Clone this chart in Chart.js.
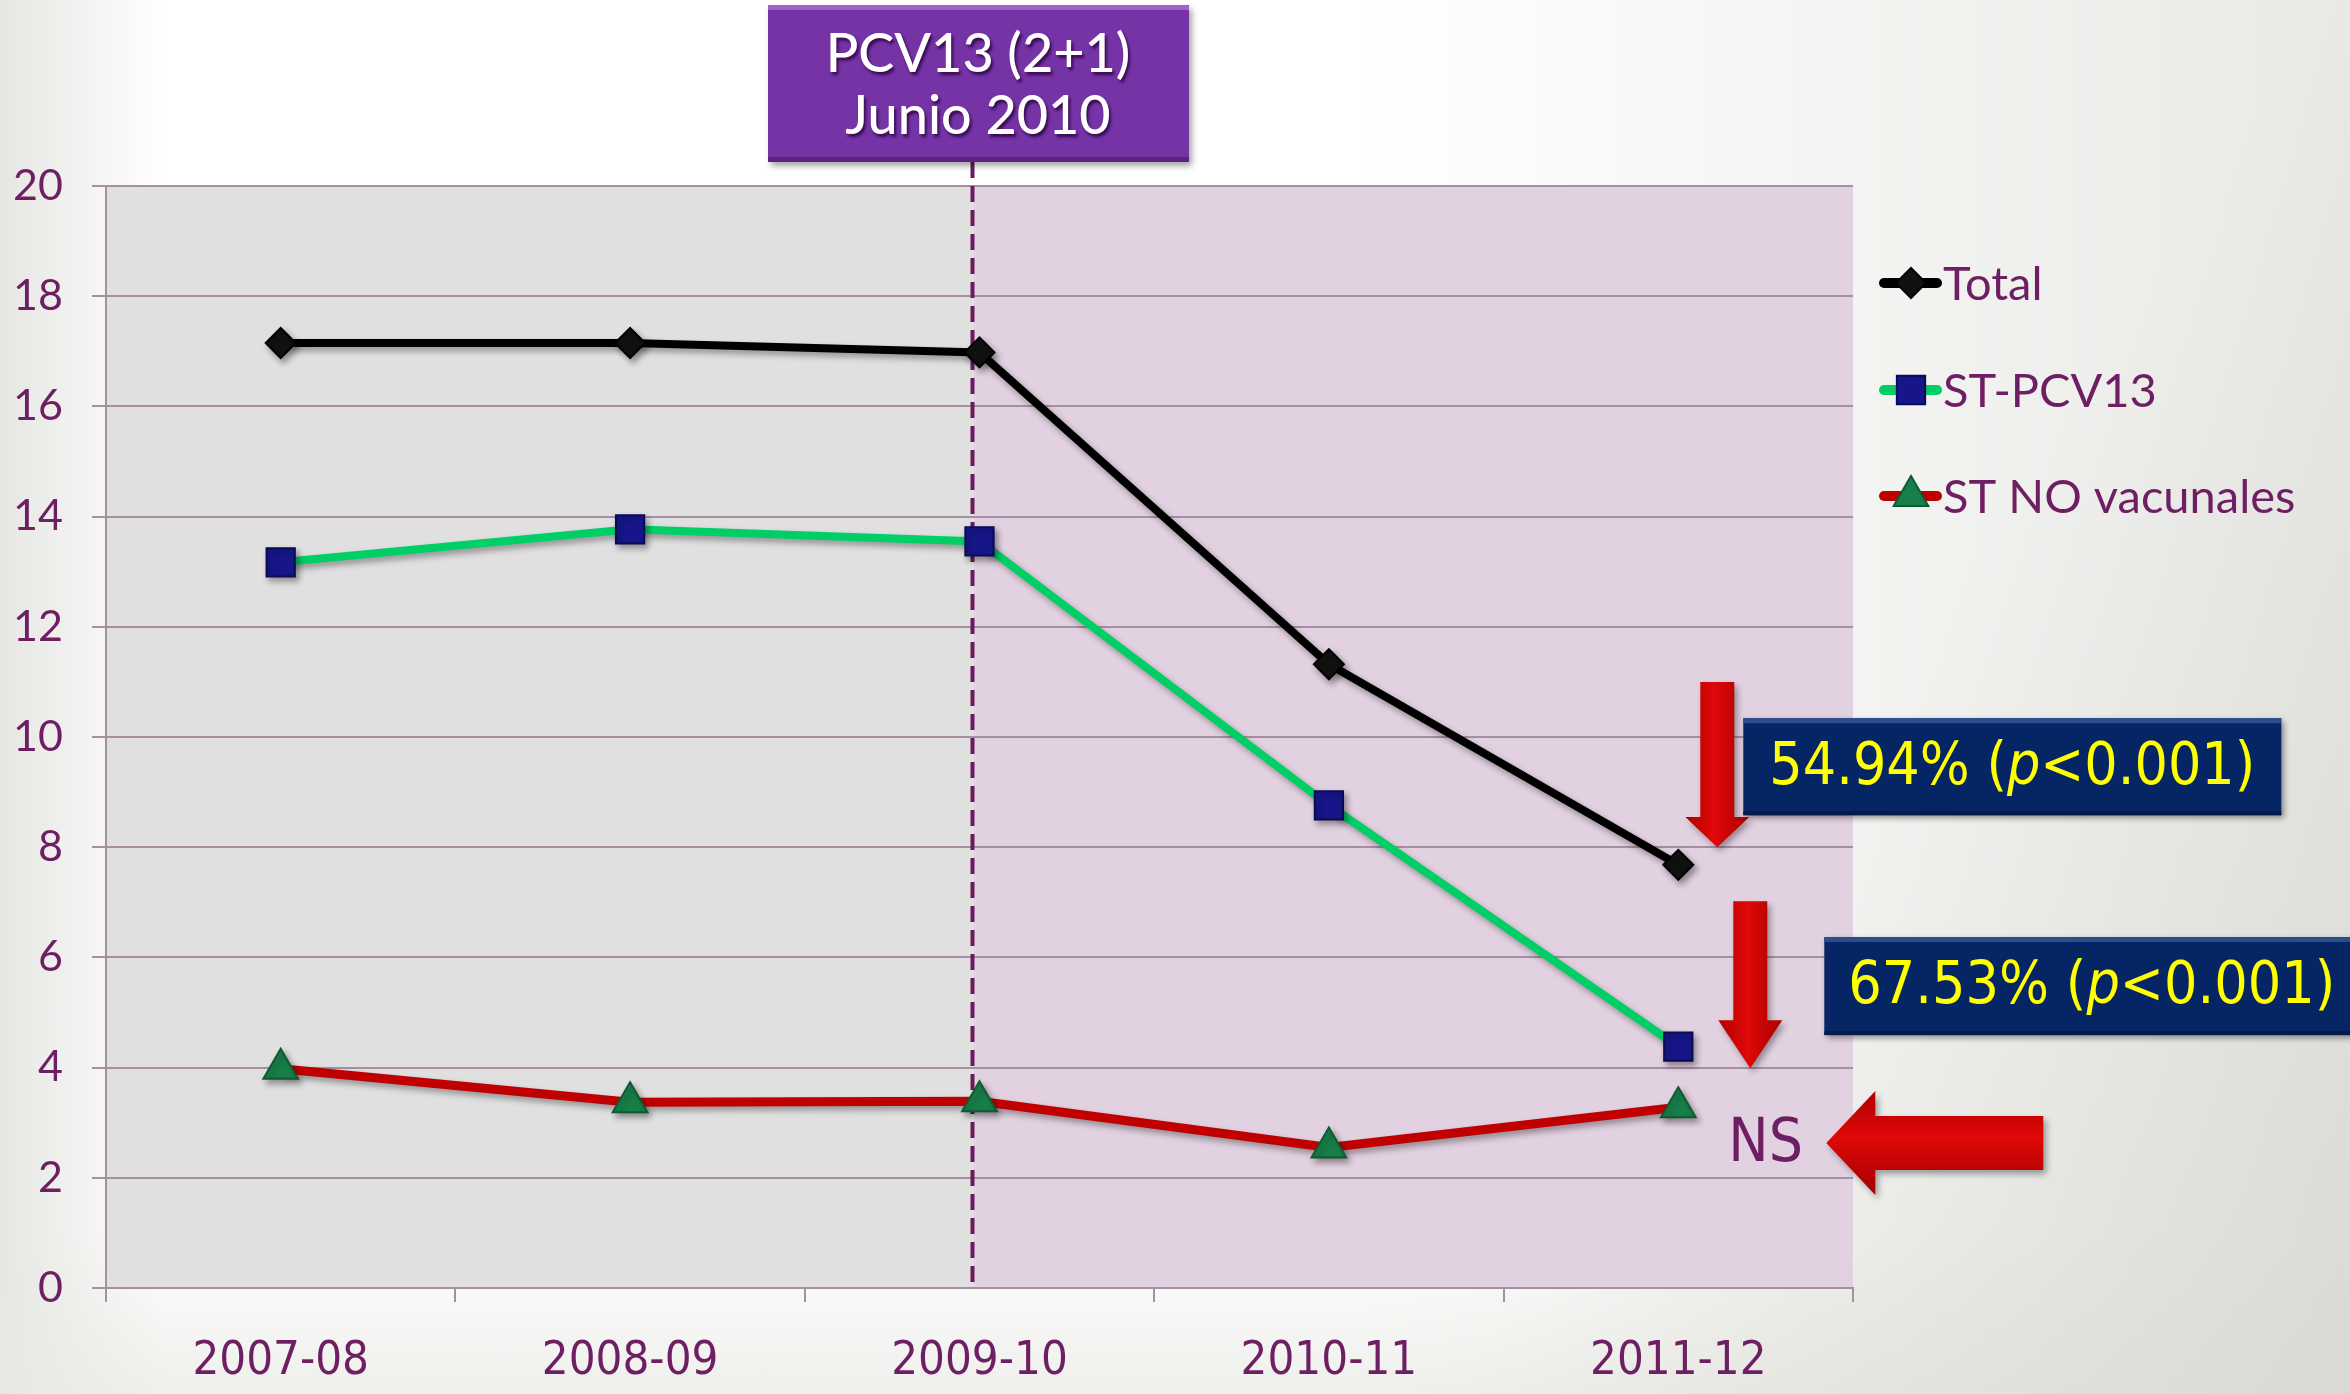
<!DOCTYPE html>
<html>
<head>
<meta charset="utf-8">
<script src="https://cdn.jsdelivr.net/npm/chart.js@4.4.1/dist/chart.umd.min.js"></script>
<style>
  html, body { margin: 0; padding: 0; }
  body {
    width: 2350px; height: 1394px; overflow: hidden;
    background:
      linear-gradient(122deg, rgba(255,255,255,0) 0%, rgba(255,255,255,0) 72%, rgba(205,205,200,0.55) 100%),
      linear-gradient(to bottom, rgba(255,255,255,0) 88%, rgba(232,232,228,0.7) 100%),
      linear-gradient(to right, #e6e6e3 0%, #ffffff 7%, #ffffff 58%, #f4f4f2 78%, #e9e9e6 100%);
  }
  #wrap { position: absolute; left: 0; top: 0; width: 2350px; height: 1394px; }
</style>
</head>
<body>
<div id="wrap"><canvas id="chart" width="2350" height="1394"></canvas></div>
<script>
// datos
let categories = ['2007-08', '2008-09', '2009-10', '2010-11', '2011-12'];
let totalValues = [17.15, 17.15, 16.98, 11.32, 7.68];
let pcv13Values = [13.17, 13.77, 13.55, 8.76, 4.38];
let noVacValues = [3.98, 3.37, 3.39, 2.55, 3.28];
let seriesNames = ['Total', 'ST-PCV13', 'ST NO vacunales'];
let yMin = 0, yMax = 20, yStep = 2;

let purple = '#6e1f63';
let gridColor = '#a68ea3';
let narrow = "'Liberation Sans Narrow', 'DejaVu Sans Condensed', sans-serif";

function arrowDown(ctx, cx, top, shaftW, headTop, headW, tip) {
    ctx.beginPath();
    ctx.moveTo(cx - shaftW / 2, top);
    ctx.lineTo(cx + shaftW / 2, top);
    ctx.lineTo(cx + shaftW / 2, headTop);
    ctx.lineTo(cx + headW / 2, headTop);
    ctx.lineTo(cx, tip);
    ctx.lineTo(cx - headW / 2, headTop);
    ctx.lineTo(cx - shaftW / 2, headTop);
    ctx.closePath();
    let g = ctx.createLinearGradient(cx - headW / 2, 0, cx + headW / 2, 0);
    g.addColorStop(0, '#b00000');
    g.addColorStop(0.45, '#e00808');
    g.addColorStop(1, '#a80000');
    ctx.fillStyle = g;
    ctx.fill();
}

function arrowLeft(ctx, tipX, cy, headBack, headH, shaftH, tail) {
    ctx.beginPath();
    ctx.moveTo(tipX, cy);
    ctx.lineTo(headBack, cy - headH / 2);
    ctx.lineTo(headBack, cy - shaftH / 2);
    ctx.lineTo(tail, cy - shaftH / 2);
    ctx.lineTo(tail, cy + shaftH / 2);
    ctx.lineTo(headBack, cy + shaftH / 2);
    ctx.lineTo(headBack, cy + headH / 2);
    ctx.closePath();
    let g = ctx.createLinearGradient(0, cy - headH / 2, 0, cy + headH / 2);
    g.addColorStop(0, '#b00000');
    g.addColorStop(0.45, '#e00808');
    g.addColorStop(1, '#a00000');
    ctx.fillStyle = g;
    ctx.fill();
}

function blueBox(ctx, x, y, w, h, parts, textW) {
    ctx.save();
    ctx.shadowColor = 'rgba(0,0,0,0.4)';
    ctx.shadowOffsetX = 3; ctx.shadowOffsetY = 3; ctx.shadowBlur = 6;
    ctx.fillStyle = '#062565';
    ctx.fillRect(x, y, w, h);
    ctx.restore();
    ctx.fillStyle = '#2c4d8e';
    ctx.fillRect(x, y, w, 5);
    ctx.fillStyle = '#041a4a';
    ctx.fillRect(x, y + h - 4, w, 4);

    // ajustar el tamaño de letra al ancho medido
    let size = 60;
    let measure = s => {
        let total = 0;
        parts.forEach(p => {
            ctx.font = (p.italic ? 'italic ' : '') + s + 'px ' + narrow;
            total += ctx.measureText(p.t).width;
        });
        return total;
    };
    size = size * textW / measure(size);
    let tx = x + (w - measure(size)) / 2;
    if (x + w > 2350) tx = x + 24;
    ctx.fillStyle = '#ffff00';
    ctx.textBaseline = 'middle';
    ctx.textAlign = 'left';
    parts.forEach(p => {
        ctx.font = (p.italic ? 'italic ' : '') + size + 'px ' + narrow;
        ctx.fillText(p.t, tx, y + h / 2 + 2);
        tx += ctx.measureText(p.t).width;
    });
}

const decorPlugin = {
    id: 'decor',
    beforeDraw(chart) {
        let ctx = chart.ctx;
        let a = chart.chartArea;
        let x = chart.scales.x;
        let split = x.getPixelForValue(2) - 6;
        ctx.save();
        ctx.fillStyle = '#e0e0e0';
        ctx.fillRect(a.left, a.top, split - a.left, a.bottom - a.top);
        ctx.fillStyle = '#e2d1e0';
        ctx.fillRect(split, a.top, a.right - split, a.bottom - a.top);
        ctx.restore();
    },
    beforeDatasetsDraw(chart) {
        let ctx = chart.ctx;
        let a = chart.chartArea;
        let split = chart.scales.x.getPixelForValue(2) - 7;
        ctx.save();
        ctx.strokeStyle = '#6b1a5e';
        ctx.lineWidth = 4;
        ctx.setLineDash([16, 8]);
        ctx.beginPath();
        ctx.moveTo(split, 162);
        ctx.lineTo(split, a.bottom);
        ctx.stroke();
        ctx.restore();

        ctx.save();
        ctx.shadowColor = 'rgba(0,0,0,0.35)';
        ctx.shadowOffsetX = 3;
        ctx.shadowOffsetY = 4;
        ctx.shadowBlur = 6;
    },
    afterDatasetsDraw(chart) {
        chart.ctx.restore();
    },
    afterDraw(chart) {
        let ctx = chart.ctx;
        let x = chart.scales.x;
        let y = chart.scales.y;
        let xl = x.getPixelForValue(4);
        let py = v => y.getPixelForValue(v);

        // caja morada
        ctx.save();
        ctx.shadowColor = 'rgba(0,0,0,0.35)';
        ctx.shadowOffsetX = 3; ctx.shadowOffsetY = 4; ctx.shadowBlur = 6;
        ctx.fillStyle = '#7533a6';
        ctx.fillRect(768, 5, 421, 157);
        ctx.restore();
        ctx.fillStyle = '#a060d0';
        ctx.fillRect(768, 5, 421, 5);
        ctx.fillStyle = '#5c2384';
        ctx.fillRect(768, 157, 421, 5);
        ctx.save();
        ctx.fillStyle = '#ffffff';
        ctx.shadowColor = 'rgba(40,0,60,0.8)';
        ctx.shadowOffsetX = 2; ctx.shadowOffsetY = 3; ctx.shadowBlur = 3;
        ctx.font = '500 54px Lato';
        ctx.textAlign = 'center';
        ctx.textBaseline = 'alphabetic';
        ctx.fillText('PCV13 (2+1)', 978, 72);
        ctx.fillText('Junio 2010', 978, 134);
        ctx.restore();

        // leyenda
        let legY = [283, 390, 496];
        chart.data.datasets.forEach((ds, i) => {
            let yy = legY[i];
            ctx.save();
            ctx.strokeStyle = ds.borderColor;
            ctx.lineWidth = 10;
            ctx.lineCap = 'round';
            ctx.beginPath();
            ctx.moveTo(1884, yy);
            ctx.lineTo(1937, yy);
            ctx.stroke();
            ctx.fillStyle = ds.pointBackgroundColor;
            ctx.strokeStyle = ds.pointBorderColor;
            ctx.lineWidth = 2;
            Chart.helpers.drawPoint(ctx, {
                pointStyle: ds.pointStyle, radius: ds.pointRadius, borderWidth: 2
            }, 1911, yy);
            ctx.restore();
            ctx.fillStyle = purple;
            ctx.font = '47px Lato';
            ctx.textAlign = 'left';
            ctx.textBaseline = 'middle';
            ctx.fillText(ds.label, 1943, yy + 2);
        });

        // flechas y cajas azules
        ctx.save();
        ctx.shadowColor = 'rgba(0,0,0,0.35)';
        ctx.shadowOffsetX = 3; ctx.shadowOffsetY = 4; ctx.shadowBlur = 6;
        arrowDown(ctx, xl + 39, py(11.0), 34, py(8.55), 64, py(8.0));
        arrowDown(ctx, xl + 72, py(7.02), 34, py(4.86), 64, py(3.99));
        arrowLeft(ctx, xl + 148, py(2.63), xl + 197, 104, 54, xl + 365);
        ctx.restore();

        blueBox(ctx, xl + 65, py(10.34), 538, py(8.58) - py(10.34),
            [{t: '54.94% ('}, {t: 'p', italic: true}, {t: '<0.001)'}], 486);
        blueBox(ctx, xl + 146, py(6.37), 540, py(4.59) - py(6.37),
            [{t: '67.53% ('}, {t: 'p', italic: true}, {t: '<0.001)'}], 487);

        ctx.fillStyle = purple;
        ctx.font = '60px ' + narrow;
        ctx.textAlign = 'left';
        ctx.textBaseline = 'middle';
        ctx.fillText('NS', xl + 50, py(2.63) + 2);
    }
};

let ctx = document.getElementById('chart').getContext('2d');

let chartInstance = new Chart(ctx, {
    type: 'line',
    data: {
        labels: categories,
        datasets: [{
            label: seriesNames[0],
            data: totalValues,
            borderColor: '#000000',
            borderWidth: 8,
            pointStyle: 'rectRot',
            pointRadius: 15,
            pointBackgroundColor: '#111111',
            pointBorderColor: '#000000',
            pointBorderWidth: 2
        }, {
            label: seriesNames[1],
            data: pcv13Values,
            borderColor: '#00cf66',
            borderWidth: 8,
            pointStyle: 'rect',
            pointRadius: 20,
            pointBackgroundColor: '#16168a',
            pointBorderColor: '#0a0a55',
            pointBorderWidth: 2
        }, {
            label: seriesNames[2],
            data: noVacValues,
            borderColor: '#c00000',
            borderWidth: 9,
            pointStyle: 'triangle',
            pointRadius: 20,
            pointBackgroundColor: '#17804a',
            pointBorderColor: '#0e5a32',
            pointBorderWidth: 2
        }]
    },
    options: {
        responsive: false,
        animation: false,
        layout: { padding: { left: 0, top: 186, right: 497, bottom: 0 } },
        plugins: {
            legend: { display: false },
            tooltip: { enabled: false }
        },
        scales: {
            x: {
                offset: true,
                grid: {
                    offset: true,
                    drawOnChartArea: false,
                    drawTicks: true,
                    tickLength: 14,
                    color: gridColor,
                    lineWidth: 2
                },
                border: { color: gridColor, width: 2 },
                ticks: {
                    color: purple,
                    font: { family: narrow, size: 47 },
                    padding: 32,
                    maxRotation: 0
                },
                afterFit: scale => { scale.height = 106; }
            },
            y: {
                min: yMin,
                max: yMax,
                grid: {
                    color: gridColor,
                    lineWidth: 2,
                    tickLength: 14
                },
                border: { color: gridColor, width: 2 },
                ticks: {
                    stepSize: yStep,
                    color: purple,
                    font: { family: 'Lato', size: 43 },
                    padding: 29
                },
                afterFit: scale => { scale.height = scale.height; scale.width = 106; }
            }
        }
    },
    plugins: [decorPlugin]
});
</script>
</body>
</html>
